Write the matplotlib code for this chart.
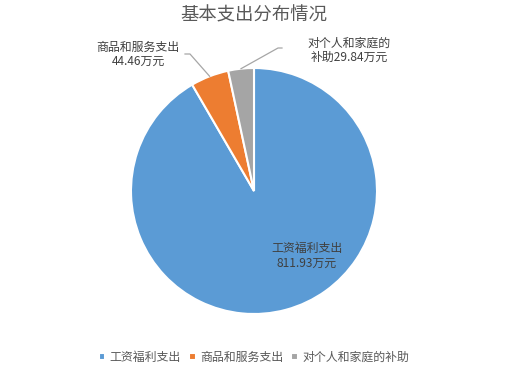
import numpy as np
import matplotlib
matplotlib.use("Agg")
import matplotlib.pyplot as plt

plt.rcParams['font.family'] = ['Noto Sans CJK SC', 'DejaVu Sans']

categories = ['工资福利支出', '商品和服务支出', '对个人和家庭的补助']
values = [811.93, 44.46, 29.84]
colors = ['#5B9BD5', '#ED7D31', '#A5A5A5']
title = '基本支出分布情况'

W, H = 507, 378
fig = plt.figure(figsize=(W / 100, H / 100), dpi=100)
ax = fig.add_axes([0, 0, 1, 1])

cx, cy, r = 254, H - 191, 123
wedges, _ = ax.pie(values, colors=colors, startangle=90, counterclock=False,
                   center=(cx, cy), radius=r, frame=True,
                   wedgeprops=dict(edgecolor='white', linewidth=1.5))
ax.set_xlim(0, W)
ax.set_ylim(0, H)
ax.set_aspect('equal')
ax.axis('off')

txtc = '#404040'
fs = 8.6

def fmt(v):
    return f'{v:.2f}万元'

# inside label for big slice
ax.text(307, H - 256, f'{categories[0]}\n{fmt(values[0])}', ha='center', va='center',
        fontsize=fs, color=txtc, linespacing=1.15)

def edge_point(w, frac=1.0):
    ang = np.deg2rad((w.theta1 + w.theta2) / 2)
    return cx + r * frac * np.cos(ang), cy + r * frac * np.sin(ang)

# orange
px, py = edge_point(wedges[1])
ax.plot([px, 190, 185], [py, H - 54, H - 54], color='#A6A6A6', lw=0.9)
ax.text(138, H - 54, f'{categories[1]}\n{fmt(values[1])}', ha='center', va='center',
        fontsize=fs, color=txtc, linespacing=1.1)
# gray
px, py = edge_point(wedges[2])
ax.plot([px, 278, 282], [py, H - 48, H - 48], color='#A6A6A6', lw=0.9)
ax.text(349.5, H - 50, '对个人和家庭的\n补助' + fmt(values[2]), ha='center', va='center',
        fontsize=fs, color=txtc, linespacing=1.1)

fig.text(0.5, 1 - 15 / H, title, ha='center', va='center', fontsize=13.2,
         color='#595959', fontweight='light')

leg = ax.legend(wedges, categories, loc='center', bbox_to_anchor=(254 / W, 1 - 357 / H),
                ncol=3, frameon=False, fontsize=fs, handlelength=0.55, handleheight=0.55,
                handletextpad=0.35, columnspacing=0.7, labelcolor='#595959')

fig.savefig('out.png', dpi=100)
